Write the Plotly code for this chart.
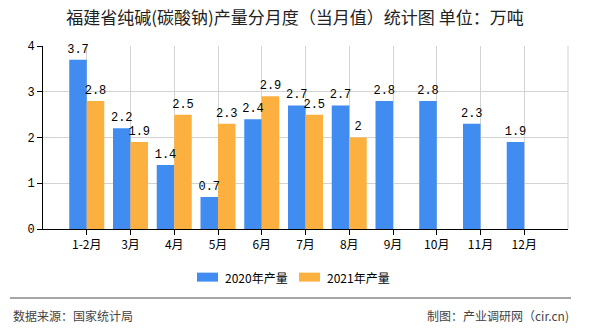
import plotly.graph_objects as go

categories = ["1-2月", "3月", "4月", "5月", "6月", "7月", "8月", "9月", "10月", "11月", "12月"]
values_2020 = [3.7, 2.2, 1.4, 0.7, 2.4, 2.7, 2.7, 2.8, 2.8, 2.3, 1.9]
values_2021 = [2.8, 1.9, 2.5, 2.3, 2.9, 2.5, 2.0, None, None, None, None]
series_names = ["2020年产量", "2021年产量"]
series_colors = ["#418CF0", "#FCB040"]
y_ticks = [0, 1, 2, 3, 4]

title_text = "福建省纯碱(碳酸钠)产量分月度（当月值）统计图 单位：万吨"
source_text = "数据来源：国家统计局"
credit_text = "制图：产业调研网（cir.cn)"

CJK = "Noto Sans CJK SC"
MONO = "Liberation Mono"

# plot area in pixels
L, R, T, B = 43, 568, 46, 229.3
W, H = R - L, B - T


def px(x):
    return (x - L) / W


def py(y):
    return (B - y) / H


def fmt(v):
    return "" if v is None else f"{v:g}"


fig = go.Figure()
for name, vals, color in zip(series_names, [values_2020, values_2021], series_colors):
    fig.add_trace(go.Bar(
        x=categories, y=vals, name=name,
        marker=dict(color=color, line=dict(width=0)),
        hoverinfo="skip", showlegend=False,
    ))
for name, vals in zip(series_names, [values_2020, values_2021]):
    fig.add_trace(go.Scatter(
        x=categories, y=vals, name=name + " 标签", mode="markers+text",
        orientation="v",
        marker=dict(size=5, opacity=0), text=[fmt(v) for v in vals],
        textposition="top center",
        textfont=dict(family=MONO, size=12, color="#000000"),
        cliponaxis=False, hoverinfo="skip", showlegend=False,
    ))

fig.update_layout(
    width=590, height=330,
    margin=dict(l=L, r=590 - R, t=T, b=330 - B),
    paper_bgcolor="white", plot_bgcolor="white",
    barmode="group", bargap=0.2, bargroupgap=0,
    scattermode="group", scattergap=0.2,
    title=dict(text=title_text, x=0.5, xanchor="center", y=1 - 18 / 330, yanchor="middle",
               font=dict(family=CJK, size=17, color="#222222")),
    xaxis=dict(type="category", range=[-1, 11], showgrid=True, gridcolor="#d3d3d3",
               showline=True, linecolor="#000000", linewidth=1,
               ticks="outside", ticklen=5, tickcolor="#000000",
               tickfont=dict(family=CJK, size=12, color="#000000"), zeroline=False),
    yaxis=dict(range=[0, 4], tickvals=y_ticks, showgrid=True, gridcolor="#d3d3d3",
               showline=True, linecolor="#000000", linewidth=1,
               ticks="outside", ticklen=5, tickcolor="#000000",
               tickfont=dict(family=MONO, size=12, color="#000000"), zeroline=False),
    showlegend=False,
)

# right border of plot area
fig.add_shape(type="line", xref="paper", yref="paper", x0=1, x1=1, y0=0, y1=1,
              line=dict(color="#d3d3d3", width=1))

# legend (swatch + label)
legend_items = [(series_names[0], series_colors[0], 197), (series_names[1], series_colors[1], 299)]
for name, color, x0 in legend_items:
    fig.add_shape(type="rect", xref="paper", yref="paper",
                  x0=px(x0), x1=px(x0 + 21), y0=py(282), y1=py(273),
                  fillcolor=color, line=dict(width=0))
    fig.add_annotation(text=name, xref="paper", yref="paper",
                       x=px(x0 + 26), xanchor="left", y=py(277.5), yanchor="middle",
                       showarrow=False, font=dict(family=CJK, size=12, color="#000000"))

# separator line above footer
fig.add_shape(type="line", xref="paper", yref="paper",
              x0=px(10), x1=px(571), y0=py(298.3), y1=py(298.3),
              line=dict(color="#888888", width=1.5))

fig.add_annotation(text=source_text, xref="paper", yref="paper",
                   x=px(11), xanchor="left", y=py(316), yanchor="middle",
                   showarrow=False, font=dict(family=CJK, size=12, color="#444444"))
fig.add_annotation(text=credit_text, xref="paper", yref="paper",
                   x=px(571), xanchor="right", y=py(316), yanchor="middle",
                   showarrow=False, font=dict(family=CJK, size=12, color="#444444"))

fig.write_html("out.html")
